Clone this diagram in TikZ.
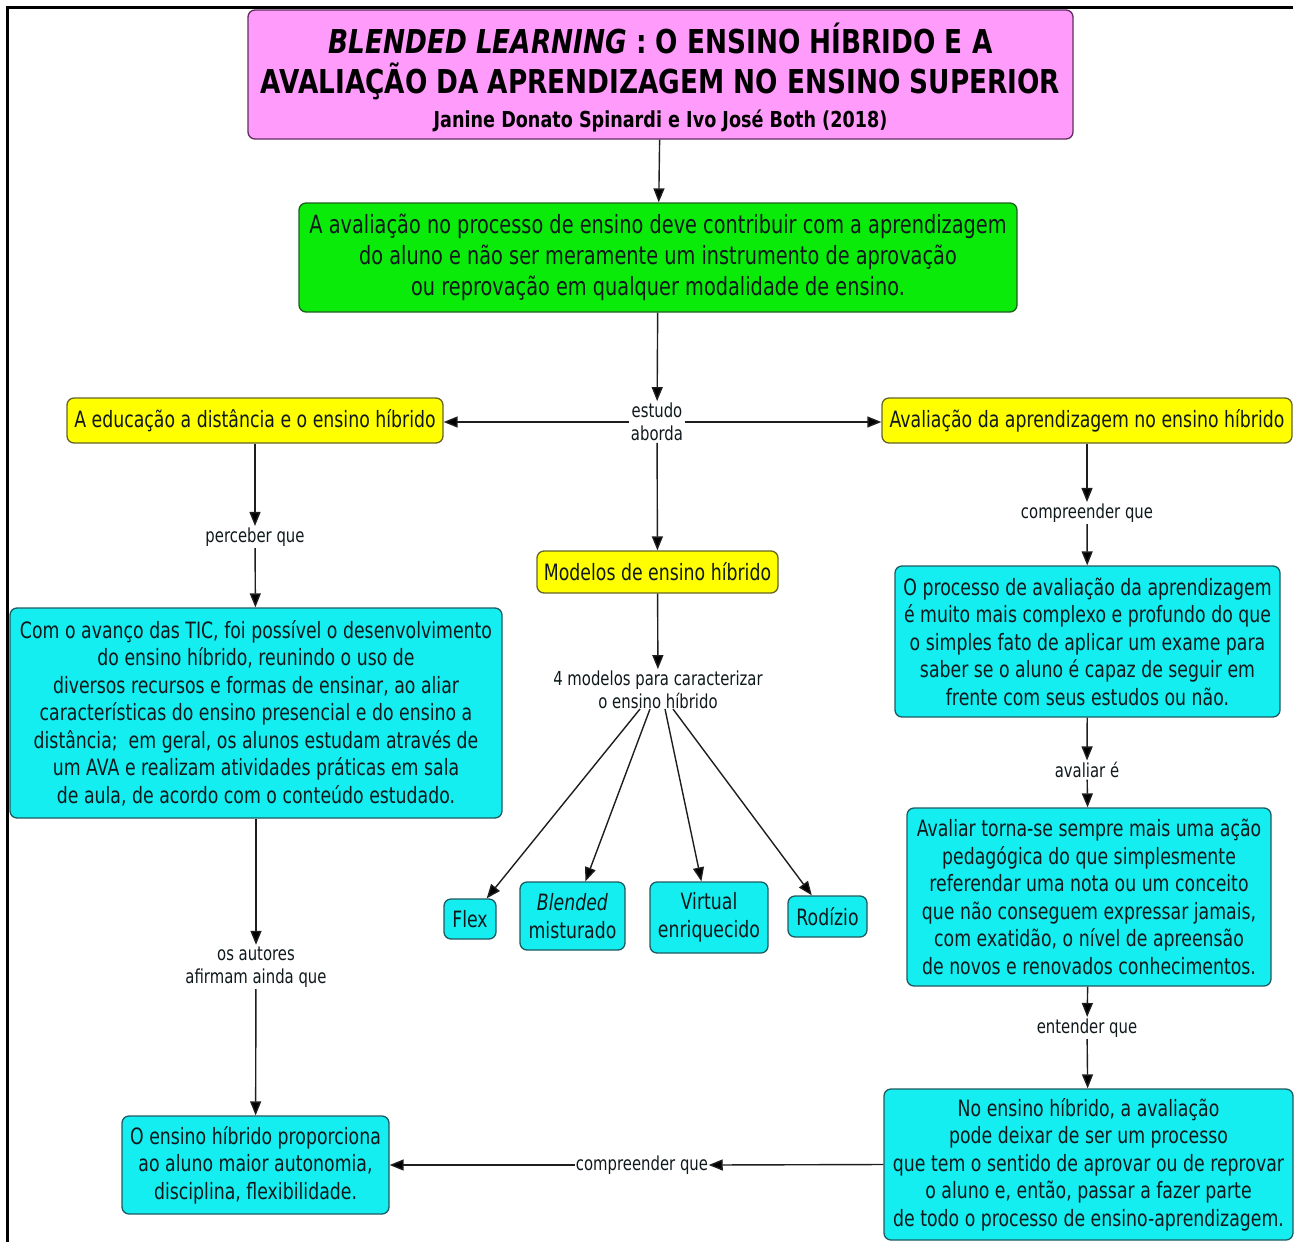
\documentclass[tikz,border=0pt]{standalone}
\usepackage{fontspec}
\setmainfont{DejaVu Sans}[FakeStretch=0.77]
\newfontfamily\titlefont{DejaVu Sans}[FakeStretch=0.8]
\usetikzlibrary{arrows.meta}

\definecolor{pinkfill}{RGB}{255,155,250}
\definecolor{pinkedge}{RGB}{95,45,95}
\definecolor{greenfill}{RGB}{10,235,10}
\definecolor{greenedge}{RGB}{30,95,30}
\definecolor{yellowfill}{RGB}{255,255,0}
\definecolor{yellowedge}{RGB}{100,100,40}
\definecolor{cyanfill}{RGB}{20,238,240}
\definecolor{cyanedge}{RGB}{30,90,95}
\definecolor{txt}{RGB}{15,25,28}
\definecolor{linecol}{RGB}{30,30,30}

\tikzset{
  box/.style={draw, rounded corners=7pt, line width=1.3pt, inner sep=0pt,
              align=center, text=txt},
  titlebox/.style={box, fill=pinkfill, draw=pinkedge},
  greenbox/.style={box, fill=greenfill, draw=greenedge,
              font=\fontsize{25.1}{31}\selectfont},
  yellowbox/.style={box, fill=yellowfill, draw=yellowedge,
              font=\fontsize{22.5}{27.5}\selectfont},
  cyanbox/.style={box, fill=cyanfill, draw=cyanedge,
              font=\fontsize{22.5}{27.5}\selectfont},
  linkphrase/.style={inner sep=1.5pt, align=center, text=txt,
              font=\fontsize{19.3}{23.5}\selectfont},
  conn/.style={draw=linecol, line width=1.4pt,
              -{Triangle[length=14pt,width=11pt,fill=black]}}
}

\begin{document}
\begin{tikzpicture}[x=1pt,y=-1pt]
\useasboundingbox (0,0) rectangle (1295,1242);

% frame lines along the top and the left side
\coordinate (ftr) at (1293,7);
\coordinate (ftl) at (7,7);
\coordinate (fbl) at (7,1242);
\draw[line width=3pt, black] (ftr) -- (ftl) -- (fbl);

% title
\node[titlebox, minimum width=825pt, minimum height=129pt] (title) at (660.5,74.5) {};
\node[align=center, text=black, inner sep=0pt,
      font=\titlefont\bfseries\fontsize{32.9}{40}\selectfont] (titletext) at (660.5,78)
  {\textit{BLENDED LEARNING} : O ENSINO HÍBRIDO E A\\
   AVALIAÇÃO DA APRENDIZAGEM NO ENSINO SUPERIOR\\[-6pt]
   {\fontsize{22}{26}\selectfont Janine Donato Spinardi e Ivo José Both (2018)}};

% main statement
\node[greenbox, minimum width=718pt, minimum height=109pt] (main) at (658,257.5)
  {A avaliação no processo de ensino deve contribuir com a aprendizagem\\
   do aluno e não ser meramente um instrumento de aprovação\\
   ou reprovação em qualquer modalidade de ensino.};

% three themes
\node[linkphrase] (aborda) at (657,422) {estudo\\aborda};
\node[yellowbox, minimum width=376pt, minimum height=45pt] (edist) at (255,420.5)
  {A educação a distância e o ensino híbrido};
\node[yellowbox, minimum width=410pt, minimum height=45pt] (aval) at (1087,420.5)
  {Avaliação da aprendizagem no ensino híbrido};
\node[yellowbox, minimum width=241pt, minimum height=42pt] (modelos) at (657.5,572)
  {Modelos de ensino híbrido};

% left branch
\node[linkphrase] (perceber) at (255,537) {perceber que};
\node[cyanbox, minimum width=492pt, minimum height=210pt] (tic) at (256,713)
  {Com o avanço das TIC, foi possível o desenvolvimento\\
   do ensino híbrido, reunindo o uso de\\
   diversos recursos e formas de ensinar, ao aliar\\
   características do ensino presencial e do ensino a\\
   distância;\ \ em geral, os alunos estudam através de\\
   um AVA e realizam atividades práticas em sala\\
   de aula, de acordo com o conteúdo estudado.};
\node[linkphrase] (autores) at (256,967) {os autores\\afirmam ainda que};
\node[cyanbox, minimum width=267pt, minimum height=98pt] (autonomia) at (255.5,1165)
  {O ensino híbrido proporciona\\
   ao aluno maior autonomia,\\
   disciplina, flexibilidade.};

% middle branch
\node[linkphrase] (quatro) at (658,690) {4 modelos para caracterizar\\o ensino híbrido};
\node[cyanbox, minimum width=52pt, minimum height=40pt] (flex) at (470,919) {Flex};
\node[cyanbox, minimum width=105pt, minimum height=68pt] (blended) at (572.5,916)
  {\textit{Blended}\\misturado};
\node[cyanbox, minimum width=118pt, minimum height=71pt] (virtual) at (709,917.5)
  {Virtual\\enriquecido};
\node[cyanbox, minimum width=79pt, minimum height=41pt] (rodizio) at (827.5,916.5)
  {Rodízio};
\coordinate (m1) at (640,709);
\coordinate (m2) at (650,709);
\coordinate (m3) at (665,709);
\coordinate (m4) at (673,709);

% right branch
\node[linkphrase] (compr1) at (1087,513) {compreender que};
\node[cyanbox, minimum width=385pt, minimum height=151pt] (complexo) at (1087.5,641.5)
  {O processo de avaliação da aprendizagem\\
   é muito mais complexo e profundo do que\\
   o simples fato de aplicar um exame para\\
   saber se o aluno é capaz de seguir em\\
   frente com seus estudos ou não.};
\node[linkphrase] (avaliar) at (1087,770) {avaliar é};
\node[cyanbox, minimum width=364pt, minimum height=178pt] (acao) at (1089,897)
  {Avaliar torna-se sempre mais uma ação\\
   pedagógica do que simplesmente\\
   referendar uma nota ou um conceito\\
   que não conseguem expressar jamais,\\
   com exatidão, o nível de apreensão\\
   de novos e renovados conhecimentos.};
\node[linkphrase] (entender) at (1087,1028) {entender que};
\node[cyanbox, minimum width=409pt, minimum height=151pt] (processo) at (1088.5,1164.5)
  {No ensino híbrido, a avaliação\\
   pode deixar de ser um processo\\
   que tem o sentido de aprovar ou de reprovar\\
   o aluno e, então, passar a fazer parte\\
   de todo o processo de ensino-aprendizagem.};
\node[linkphrase, inner sep=0.5pt] (compr2) at (642,1165) {compreender que};

% connectors
\draw[conn] (title) -- (main);
\draw[conn] (main) -- (aborda);
\draw[conn] (aborda.west) -- (edist.east |- aborda.west);
\draw[conn] (aborda.east) -- (aval.west |- aborda.east);
\draw[conn] (aborda) -- (modelos);

\draw[conn] (edist) -- (perceber);
\draw[conn] (perceber) -- (tic);
\draw[conn] (tic) -- (autores);
\draw[conn] (autores) -- (autonomia);

\draw[conn] (modelos) -- (quatro);
\draw[conn] (m1) -- (flex);
\draw[conn] (m2) -- (blended);
\draw[conn] (m3) -- (virtual);
\draw[conn] (m4) -- (rodizio);

\draw[conn] (aval) -- (compr1);
\draw[conn] (compr1) -- (complexo);
\draw[conn] (complexo) -- (avaliar);
\draw[conn] (avaliar) -- (acao);
\draw[conn] (acao) -- (entender);
\draw[conn] (entender) -- (processo);
\draw[conn] (processo.west) -- (compr2.east);
\draw[conn] (compr2.west) -- (autonomia.east);
\end{tikzpicture}
\end{document}
